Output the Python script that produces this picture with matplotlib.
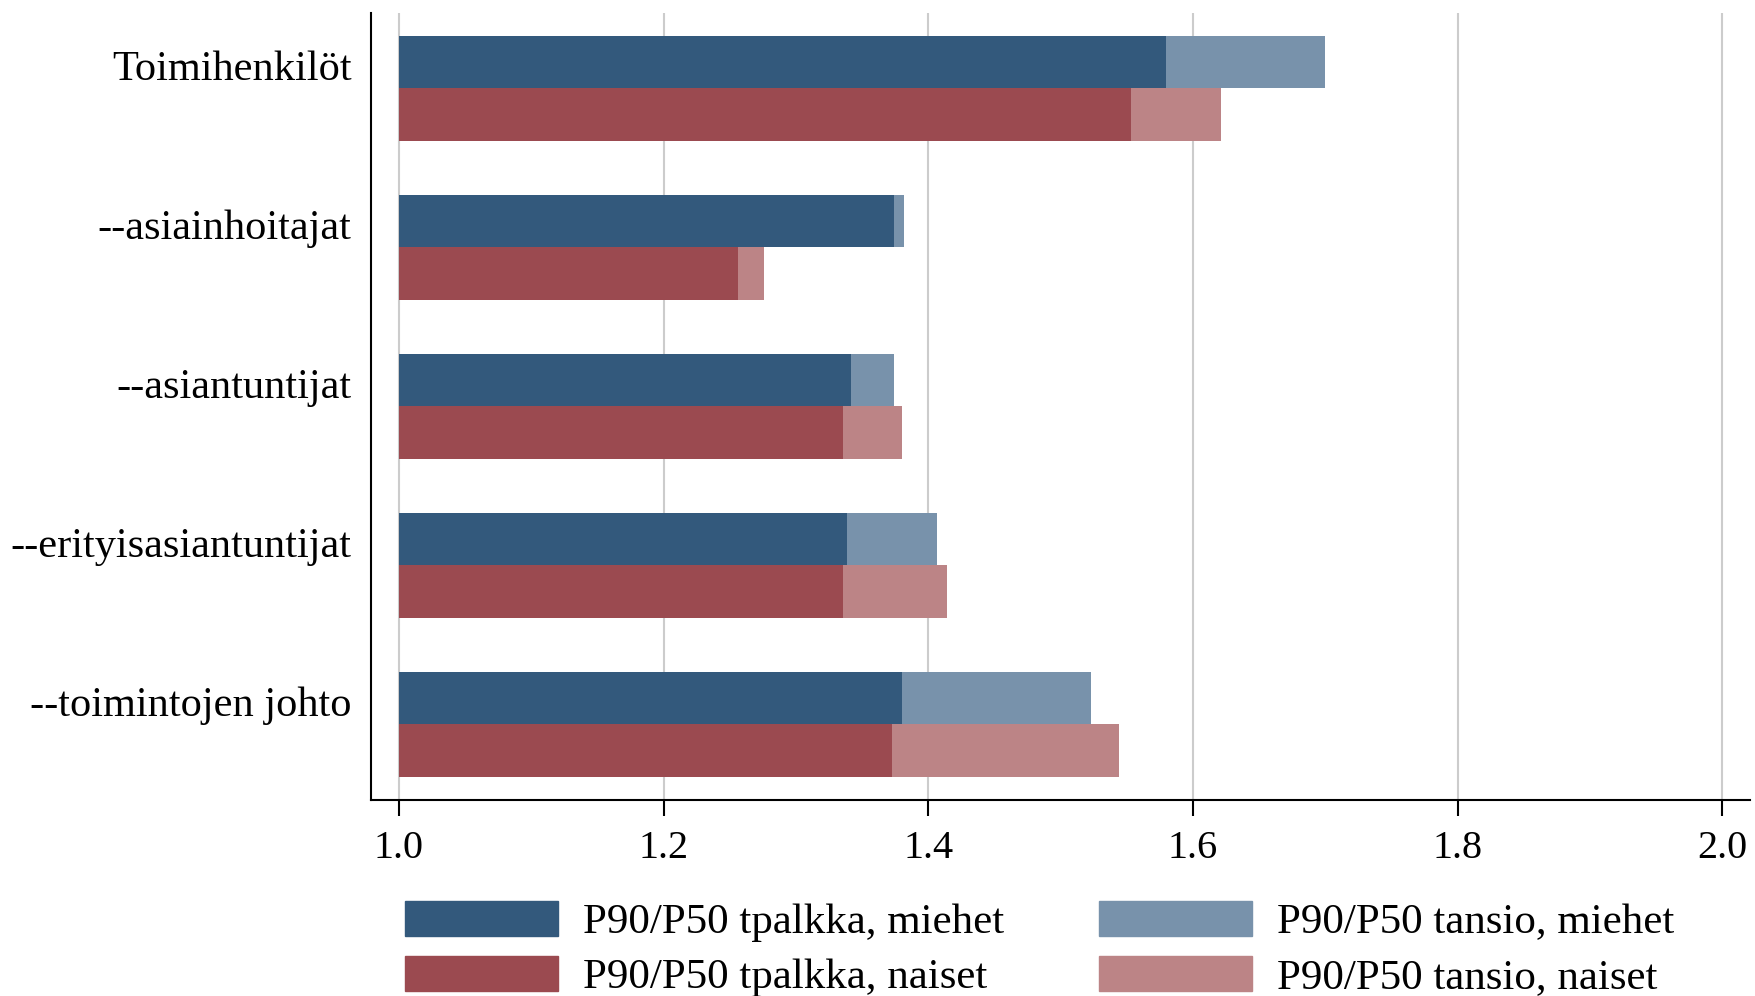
import matplotlib
matplotlib.use('Agg')
from matplotlib import pyplot as plt
from matplotlib import patches as mpatches

# P90/P50 ratios
categories = ['Toimihenkilöt', '--asiainhoitajat', '--asiantuntijat',
              '--erityisasiantuntijat', '--toimintojen johto']
tpalkka_miehet = [1.580, 1.374, 1.342, 1.339, 1.380]
tansio_miehet = [1.700, 1.382, 1.374, 1.407, 1.523]
tpalkka_naiset = [1.553, 1.256, 1.336, 1.336, 1.373]
tansio_naiset = [1.621, 1.276, 1.380, 1.414, 1.544]
xticks = [1.0, 1.2, 1.4, 1.6, 1.8, 2.0]

labels = ['P90/P50 tpalkka, miehet', 'P90/P50 tpalkka, naiset',
          'P90/P50 tansio, miehet', 'P90/P50 tansio, naiset']
colors = ['#33597c', '#9b4a50', '#7892ab', '#bc8486']

plt.rcParams['font.family'] = ['Liberation Serif', 'DejaVu Serif']

fig = plt.figure(figsize=(17.56, 9.96), dpi=100)
ax = fig.add_axes([0.2113, 0.1968, 0.9966 - 0.2113, 0.987 - 0.1968])

h = 0.33
base = 1.0
for i in range(len(categories)):
    ym = i - h / 2
    yn = i + h / 2
    ax.barh(ym, tansio_miehet[i] - base, left=base, height=h, color=colors[2], zorder=2)
    ax.barh(ym, tpalkka_miehet[i] - base, left=base, height=h, color=colors[0], zorder=3)
    ax.barh(yn, tansio_naiset[i] - base, left=base, height=h, color=colors[3], zorder=2)
    ax.barh(yn, tpalkka_naiset[i] - base, left=base, height=h, color=colors[1], zorder=3)

ax.set_xlim(0.979, 2.021)
ax.set_ylim(len(categories) - 0.525, -0.475)
ax.set_xticks(xticks)
ax.set_xticklabels(['%.1f' % t for t in xticks], fontsize=29)
# labels sit a bit above the group centre, as in the original
ax.set_yticks([i - 0.145 for i in range(len(categories))])
ax.set_yticklabels(categories, fontsize=30.5)
ax.tick_params(axis='y', length=0, pad=14)
ax.tick_params(axis='x', length=11.5, width=1.5, pad=10)
ax.xaxis.grid(True, color='#cccccc', linewidth=1.5, zorder=0)
ax.set_axisbelow(True)
for s in ['top', 'right']:
    ax.spines[s].set_visible(False)
for s in ['left', 'bottom']:
    ax.spines[s].set_linewidth(1.5)

handles = [mpatches.Patch(color=c, label=l) for c, l in zip(colors, labels)]
fig.legend(handles=handles, ncol=2, loc='upper left',
           bbox_to_anchor=(405 / 1756, 1 - 901 / 996), frameon=False,
           fontsize=31, handlelength=3.56, handleheight=0.86,
           handletextpad=0.58, columnspacing=2.2, labelspacing=0.32,
           borderpad=0, borderaxespad=0)

fig.savefig('out.png', dpi=100)
plt.close()
